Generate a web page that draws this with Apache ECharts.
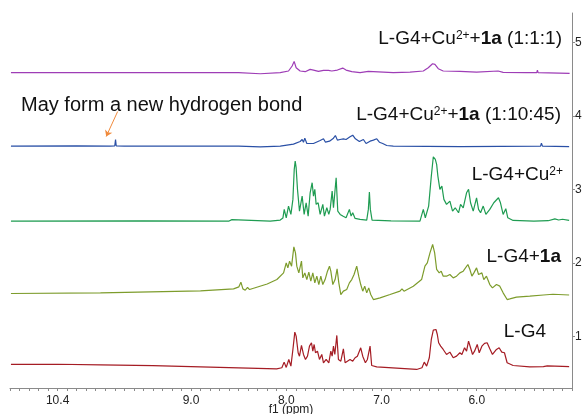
<!DOCTYPE html>
<html>
<head>
<meta charset="UTF-8">
<title>1H NMR stack</title>
<script src="https://cdn.jsdelivr.net/npm/echarts@6/dist/echarts.min.js"></script>
</head>
<body style="margin:0">
<div id="main" style="width:585px;height:414px;"></div>
<script type="text/javascript">
// chemical shift (ppm) / intensity pairs, bottom spectrum first
var specRed = [[10.89,0],[10.4,0.003],[9.95,-0.005],[9.4,-0.015],[8.9,-0.032],[8.5,-0.045],[8.1,-0.059],[8.046,-0.045],[8.022,0.032],[8.0,-0.04],[7.973,0.068],[7.951,-0.023],[7.93,0.204],[7.91,0.44],[7.896,0.385],[7.875,0.159],[7.861,0.113],[7.84,0.259],[7.819,0.136],[7.798,0.068],[7.777,0.113],[7.756,0.249],[7.735,0.295],[7.721,0.181],[7.707,0.272],[7.693,0.159],[7.672,0.181],[7.651,0.068],[7.627,0.136],[7.609,0.023],[7.581,0.068],[7.553,0.023],[7.532,0.181],[7.518,0.113],[7.504,0.249],[7.49,0.136],[7.469,0.395],[7.452,0.068],[7.427,0.045],[7.4,0.213],[7.382,0.023],[7.358,0.045],[7.33,0.068],[7.302,0.045],[7.277,0.091],[7.253,0.113],[7.218,0.227],[7.197,0.113],[7.169,0.023],[7.148,0.068],[7.12,0.249],[7.103,-0.014],[7.05,-0.032],[6.841,-0.05],[6.631,-0.068],[6.575,-0.045],[6.551,0.032],[6.526,-0.023],[6.498,0.091],[6.477,0.34],[6.456,0.467],[6.442,0.44],[6.428,0.476],[6.414,0.408],[6.4,0.295],[6.379,0.249],[6.352,0.204],[6.317,0.136],[6.282,0.168],[6.247,0.091],[6.212,0.113],[6.177,0.159],[6.156,0.136],[6.128,0.227],[6.107,0.181],[6.086,0.317],[6.065,0.227],[6.044,0.136],[6.023,0.181],[5.995,0.272],[5.974,0.159],[5.946,0.249],[5.918,0.286],[5.891,0.295],[5.863,0.213],[5.835,0.136],[5.793,0.204],[5.765,0.227],[5.737,0.168],[5.709,0.159],[5.681,0.023],[5.618,-0.014],[5.443,-0.032],[5.3,-0.03],[5.26,-0.02],[5.25,-0.03],[5.1,-0.025],[5.03,-0.03]];
var specOlive = [[10.89,0],[9.95,0.009],[8.9,0.036],[8.553,0.063],[8.497,0.091],[8.476,0.154],[8.455,0.063],[8.43,0.045],[8.406,0.082],[8.385,0.054],[8.2,0.13],[8.098,0.19],[8.028,0.281],[8.0,0.417],[7.983,0.349],[7.965,0.44],[7.944,0.372],[7.92,0.635],[7.903,0.553],[7.889,0.372],[7.868,0.281],[7.84,0.44],[7.826,0.213],[7.805,0.281],[7.784,0.19],[7.763,0.29],[7.742,0.168],[7.721,0.281],[7.7,0.145],[7.679,0.236],[7.658,0.122],[7.637,0.236],[7.616,0.122],[7.592,0.19],[7.567,0.304],[7.546,0.372],[7.532,0.304],[7.511,0.122],[7.487,0.19],[7.466,0.336],[7.448,0.145],[7.427,-0.014],[7.4,0.032],[7.365,0.054],[7.337,0.145],[7.312,0.19],[7.288,0.259],[7.26,0.372],[7.239,0.236],[7.218,0.122],[7.197,0.032],[7.176,0.1],[7.155,0.009],[7.134,0.077],[7.113,-0.014],[7.085,-0.082],[7.015,-0.059],[6.91,-0.014],[6.806,0.032],[6.785,0.063],[6.764,0.032],[6.666,0.1],[6.579,0.19],[6.544,0.372],[6.519,0.417],[6.491,0.553],[6.463,0.667],[6.442,0.553],[6.421,0.327],[6.394,0.281],[6.373,0.304],[6.352,0.236],[6.317,0.236],[6.282,0.259],[6.247,0.213],[6.212,0.236],[6.177,0.281],[6.142,0.304],[6.093,0.395],[6.072,0.327],[6.051,0.236],[6.03,0.281],[6.002,0.349],[5.981,0.259],[5.946,0.281],[5.926,0.19],[5.898,0.236],[5.863,0.122],[5.835,0.077],[5.793,0.122],[5.758,0.1],[5.723,0.009],[5.681,-0.082],[5.653,-0.073],[5.583,-0.05],[5.443,-0.036],[5.3,-0.02],[5.2,-0.01],[5.03,-0.02]];
var specGreen = [[10.89,0],[9.5,0.003],[8.6,0],[8.57,0.02],[8.55,0],[8.168,0],[8.063,0.014],[8.035,0.041],[8.021,0.159],[8.0,0.045],[7.976,0.204],[7.951,0.091],[7.93,0.295],[7.916,0.703],[7.906,0.816],[7.896,0.726],[7.882,0.431],[7.861,0.136],[7.833,0.34],[7.812,0.091],[7.791,0.249],[7.77,0.068],[7.749,0.385],[7.728,0.522],[7.714,0.34],[7.7,0.431],[7.686,0.227],[7.665,0.249],[7.644,0.091],[7.616,0.227],[7.599,0.068],[7.574,0.181],[7.553,0.091],[7.539,0.159],[7.518,0.408],[7.504,0.181],[7.476,0.59],[7.459,0.136],[7.434,0.091],[7.407,0.068],[7.372,0.045],[7.337,0.159],[7.319,0.068],[7.302,0.113],[7.277,0.036],[7.225,0.023],[7.155,0.014],[7.138,0.159],[7.127,0.395],[7.117,0.159],[7.099,0.014],[6.9,0.003],[6.596,0],[6.561,0.159],[6.54,0.045],[6.505,0.204],[6.477,0.612],[6.456,0.875],[6.435,0.839],[6.421,0.771],[6.408,0.612],[6.387,0.431],[6.366,0.476],[6.345,0.295],[6.317,0.227],[6.282,0.272],[6.254,0.136],[6.226,0.181],[6.191,0.113],[6.17,0.227],[6.142,0.181],[6.107,0.385],[6.086,0.431],[6.065,0.249],[6.037,0.136],[6.002,0.317],[5.981,0.159],[5.96,0.113],[5.932,0.204],[5.904,0.091],[5.863,0.159],[5.821,0.249],[5.772,0.317],[5.751,0.249],[5.723,0.091],[5.695,0.168],[5.674,0.045],[5.618,0.009],[5.4,0],[5.25,0.005],[5.18,0.03],[5.14,0.015],[5.1,0.025],[5.03,0.01]];
var specBlue = [[10.89,0],[10.2,0.003],[9.85,0],[9.8,0.005],[9.792,0.091],[9.785,0.005],[9.7,0],[8.5,0],[8.273,-0.009],[8.063,0],[7.924,0.027],[7.854,0.063],[7.833,0.091],[7.819,0.054],[7.805,0.109],[7.784,0.036],[7.714,0.036],[7.644,0.077],[7.609,0.1],[7.588,0.054],[7.546,0.068],[7.504,0.109],[7.484,0.145],[7.463,0.082],[7.435,0.091],[7.4,0.1],[7.372,0.091],[7.33,0.127],[7.302,0.15],[7.274,0.1],[7.232,0.063],[7.19,0.091],[7.162,0.036],[7.12,0.068],[7.085,0.082],[7.05,0.1],[7.022,0.054],[6.987,0.036],[6.945,0.009],[6.876,0],[6.17,-0.005],[5.33,0],[5.321,0.04],[5.31,0],[5.03,-0.005]];
var specPurple = [[10.89,0],[9.5,0.003],[8.5,0],[8.273,-0.014],[8.063,0],[7.976,0.023],[7.938,0.091],[7.917,0.154],[7.896,0.068],[7.854,0.023],[7.801,0.014],[7.749,0.045],[7.714,0.036],[7.662,0.018],[7.609,0.032],[7.557,0.032],[7.54,0.054],[7.522,0.023],[7.463,0.036],[7.407,0.063],[7.372,0.036],[7.312,0.014],[7.225,0],[7.138,0.018],[7.12,0],[6.876,0],[6.701,0.009],[6.561,0.023],[6.509,0.068],[6.464,0.122],[6.439,0.113],[6.404,0.054],[6.352,0.023],[6.177,0.018],[6.002,0.009],[5.776,0.023],[5.723,0.005],[5.479,0],[5.37,0.002],[5.363,0.036],[5.356,0.002],[5.025,-0.009]];

var spectra = [specRed, specOlive, specGreen, specBlue, specPurple];
var offsets = [0.62, 1.585, 2.57, 3.589, 4.588];
var names = ['L-G4', 'L-G4+1a', 'L-G4+Cu2+', 'L-G4+Cu2++1a (1:10:45)', 'L-G4+Cu2++1a (1:1:1)'];
var colors = ['#a51c24', '#7d9c2c', '#1f9c52', '#2a50a6', '#9e3db6'];

var xTickLabels = [10.4, 9.0, 8.0, 7.0, 6.0];
var yTickLabels = [1, 2, 3, 4, 5];
var arrowCoords = [[9.77, 4.06], [9.89, 3.72]];

var myChart = echarts.init(document.getElementById('main'));
var FONT = 'Liberation Sans, Arial, sans-serif';

var series = spectra.map(function (s, i) {
    var item = {
        name: names[i],
        type: 'line',
        showSymbol: false,
        symbol: 'none',
        animation: false,
        lineStyle: { color: colors[i], width: 1.2 },
        data: s.map(function (p) { return [p[0], p[1] + offsets[i]]; })
    };
    if (i == 3) {
        item.markLine = {
            silent: true,
            animation: false,
            symbol: ['none', 'arrow'],
            symbolSize: 6,
            label: { show: false },
            lineStyle: { color: '#f08a3c', width: 1, type: 'solid' },
            data: [[{ coord: arrowCoords[0] }, { coord: arrowCoords[1] }]]
        };
    }
    return item;
});

function makeRich(size) {
    return {
        n: { fontSize: size, fontFamily: FONT, fill: '#111' },
        b: { fontSize: size, fontFamily: FONT, fontWeight: 'bold', fill: '#111' },
        s: { fontSize: 12, fontFamily: FONT, fill: '#111', verticalAlign: 'top' }
    };
}
function label(txt, x, y, align, size) {
    size = size || 19;
    return {
        type: 'text', x: x, y: y, silent: true,
        style: { text: txt, rich: makeRich(size), align: align || 'right', verticalAlign: 'middle', font: size + 'px ' + FONT, fill: '#111' }
    };
}

option = {
    animation: false,
    grid: { left: 10, right: 13, top: 13, bottom: 26, containLabel: false, outerBoundsMode: 'none' },
    xAxis: {
        type: 'value',
        inverse: true,
        min: 5.0,
        max: 10.9,
        interval: 0.1,
        name: 'f1 (ppm)',
        nameLocation: 'middle',
        nameGap: 16,
        nameMoveOverlap: false,
        nameTextStyle: { fontFamily: FONT, fontSize: 12, color: '#222' },
        axisLine: { lineStyle: { color: '#8a8a8a' } },
        axisTick: { length: 3, lineStyle: { color: '#8a8a8a' } },
        axisLabel: {
            customValues: xTickLabels,
            fontFamily: FONT, fontSize: 12, color: '#222', margin: 7,
            formatter: function (v) { return v.toFixed(1); }
        },
        splitLine: { show: false }
    },
    yAxis: {
        type: 'value',
        position: 'right',
        min: 0.3,
        max: 5.4,
        axisLine: { show: true, lineStyle: { color: '#8a8a8a' } },
        axisTick: { show: true, customValues: yTickLabels, length: 3, lineStyle: { color: '#8a8a8a' } },
        axisLabel: { customValues: yTickLabels, fontFamily: FONT, fontSize: 12, color: '#222', margin: 3 },
        splitLine: { show: false }
    },
    graphic: [
        label('{n|L-G4+Cu}{s|2+}{n|+}{b|1a}{n| (1:1:1)}', 562, 39),
        label('{n|L-G4+Cu}{s|2+}{n|+}{b|1a}{n| (1:10:45)}', 561, 115),
        label('{n|May form a new hydrogen bond}', 21, 105, 'left', 20),
        label('{n|L-G4+Cu}{s|2+}', 563, 175),
        label('{n|L-G4+}{b|1a}', 561, 257),
        label('{n|L-G4}', 546, 332)
    ],
    series: series
};
myChart.setOption(option);
</script>
</body>
</html>
